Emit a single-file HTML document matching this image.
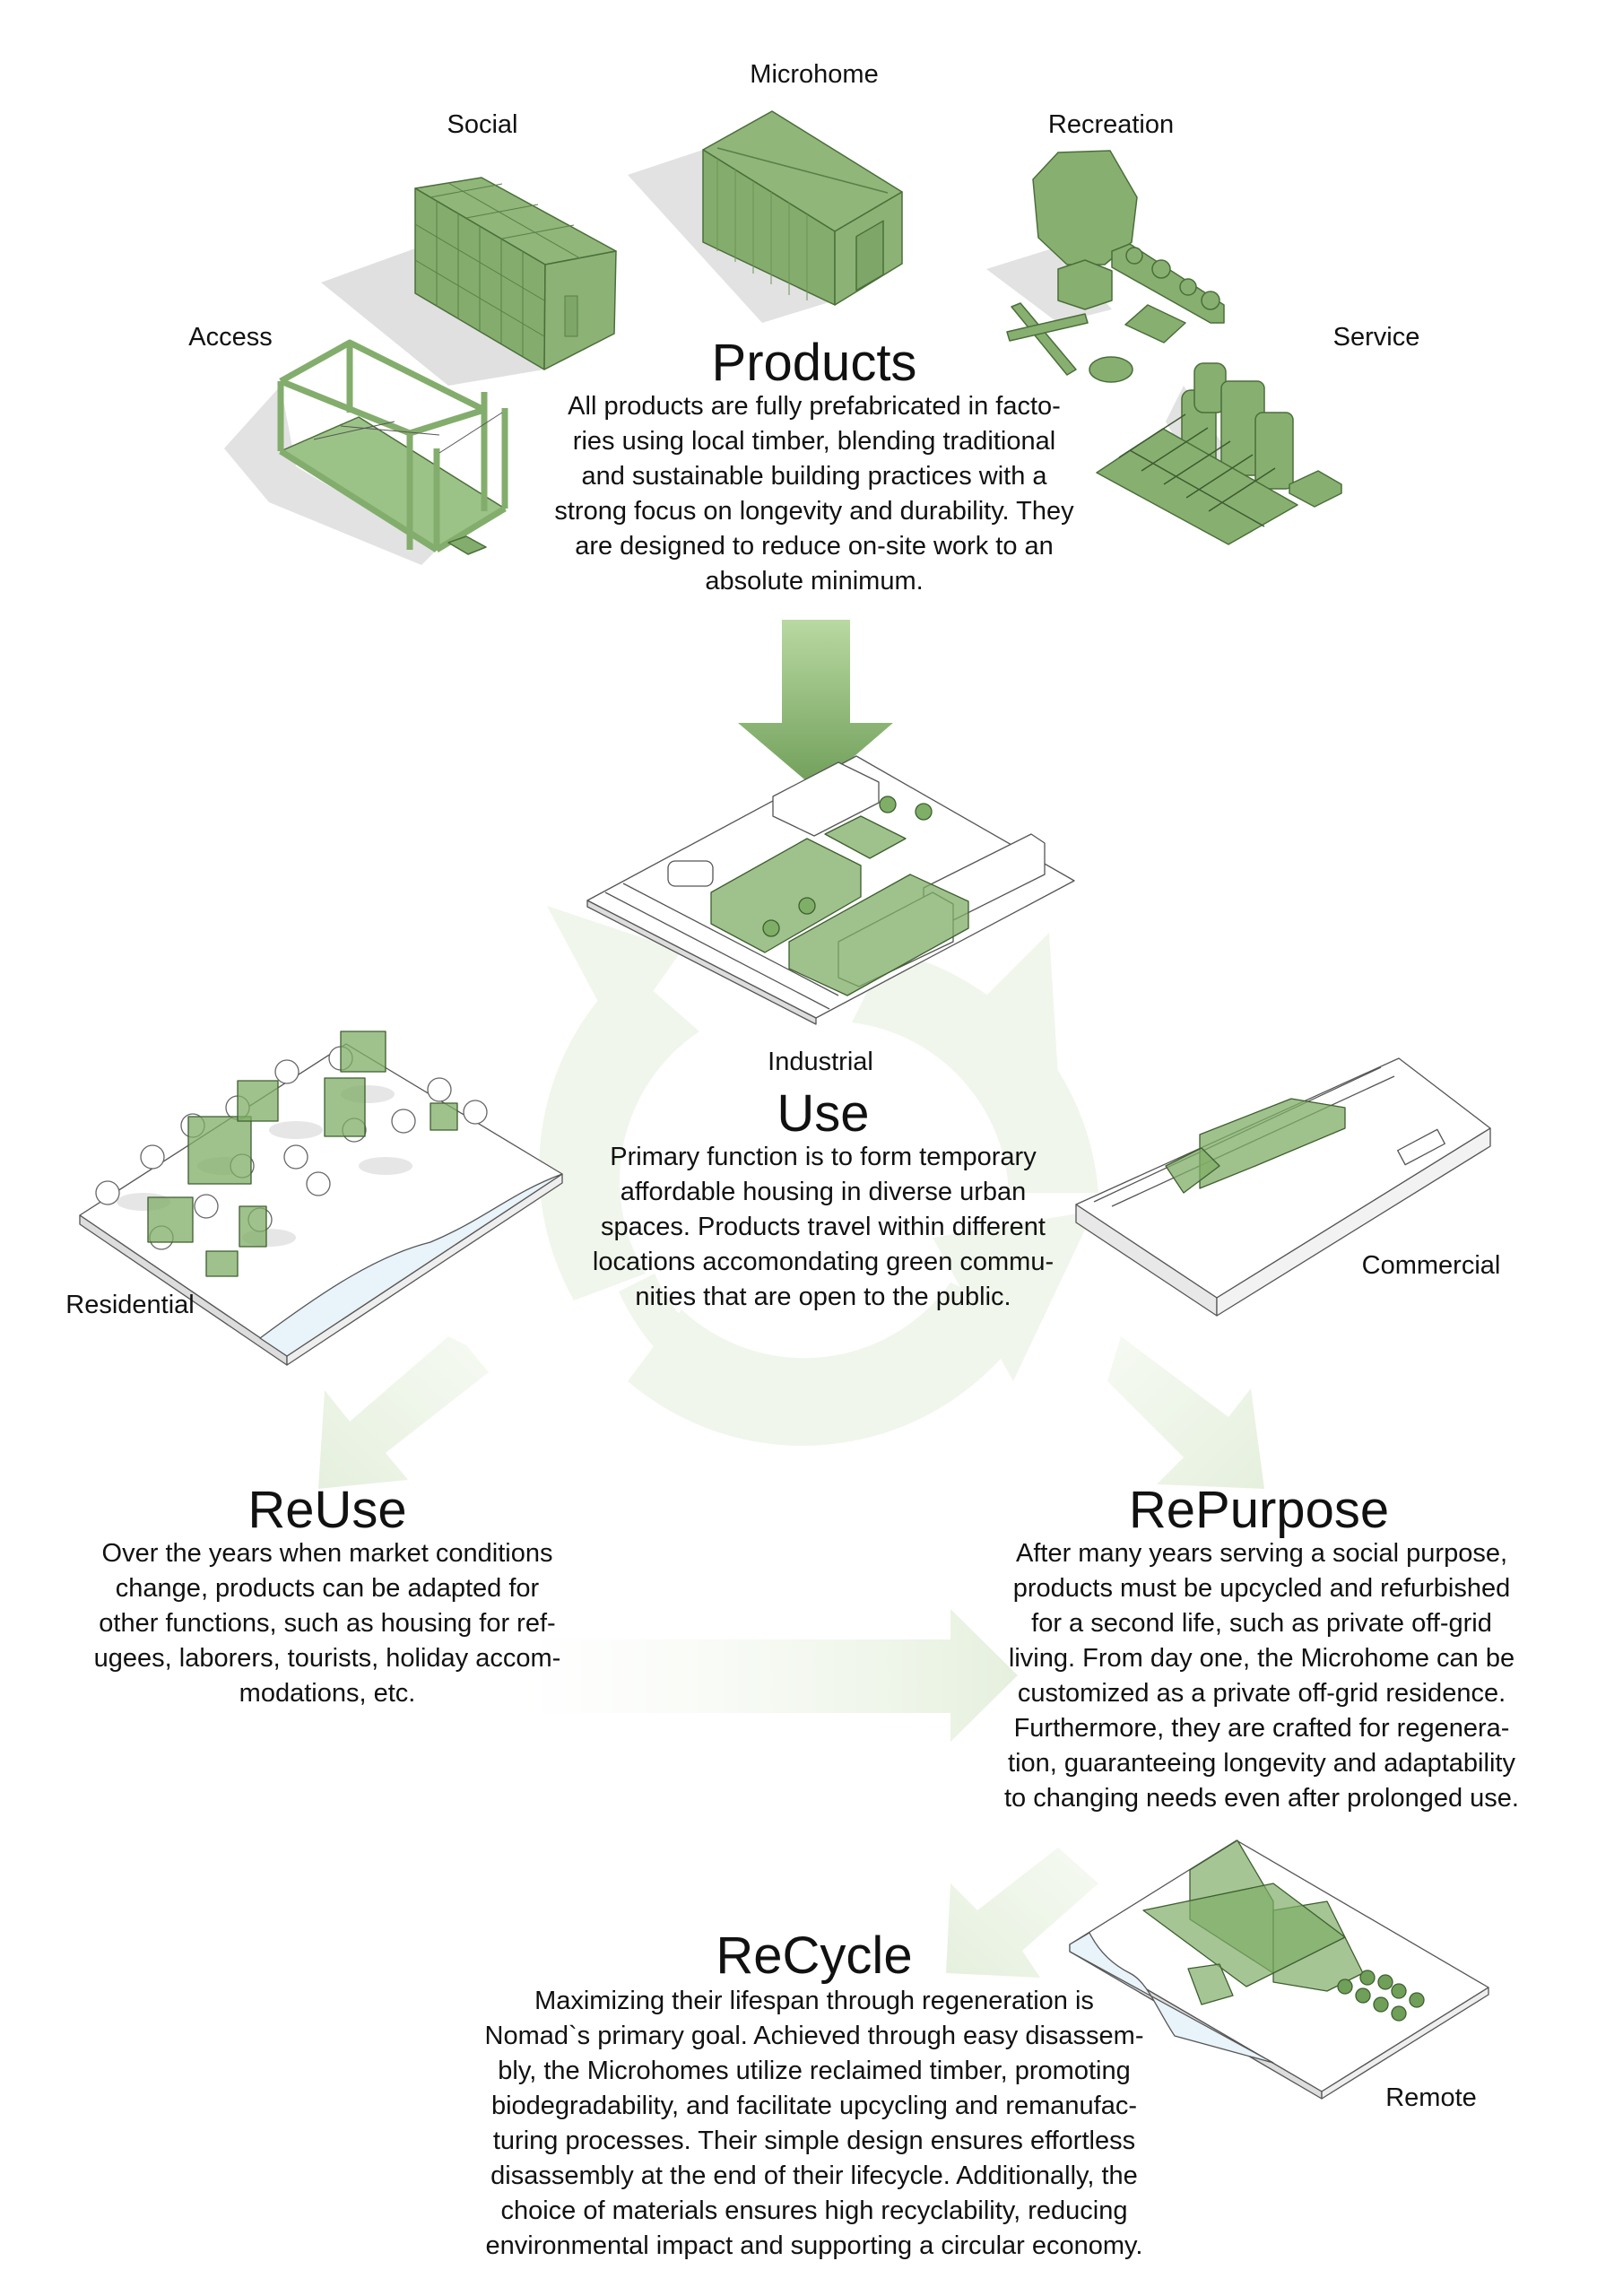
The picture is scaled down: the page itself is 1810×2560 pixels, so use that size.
<!DOCTYPE html>
<html><head><meta charset="utf-8"><style>
html,body{margin:0;padding:0;background:#fff}
svg{display:block}
text{font-family:"Liberation Sans",sans-serif;fill:#111}
</style></head><body>
<svg width="1810" height="2560" viewBox="0 0 1810 2560" xmlns="http://www.w3.org/2000/svg">
<defs>
<linearGradient id="ag" x1="0" y1="0" x2="0" y2="1"><stop offset="0" stop-color="#b9d9a2"/><stop offset="1" stop-color="#6f9e58"/></linearGradient>
<linearGradient id="hg" x1="0" y1="0" x2="1" y2="0"><stop offset="0" stop-color="#f3f8ef" stop-opacity="0"/><stop offset="1" stop-color="#e6f0de"/></linearGradient>
<linearGradient id="dl" x1="1" y1="0" x2="0" y2="1"><stop offset="0" stop-color="#f6faf3"/><stop offset="1" stop-color="#e6f0de"/></linearGradient>
<linearGradient id="dr" x1="0" y1="0" x2="1" y2="1"><stop offset="0" stop-color="#f6faf3"/><stop offset="1" stop-color="#e6f0de"/></linearGradient>
</defs>

<g fill="#f0f6ec">
<path d="M640 1450 A300 300 0 0 1 700 1080 L780 1150 A200 200 0 0 0 720 1420 Z"/>
<polygon points="610,1010 760,1060 690,1160"/>
<path d="M990 1060 A300 300 0 0 1 1225 1330 L1125 1330 A200 200 0 0 0 950 1140 Z"/>
<polygon points="1170,1040 1180,1200 1040,1170"/>
<path d="M1150 1470 A300 300 0 0 1 700 1540 L760 1460 A200 200 0 0 0 1060 1430 Z"/>
<polygon points="1040,1380 1220,1350 1130,1540"/>
<path d="M690 1440 A260 260 0 0 0 1010 1580 L1000 1530 A210 210 0 0 1 730 1420Z"/>
</g>

<polygon points="520,1500 545,1530 430,1620 455,1650 355,1660 362,1550 390,1585 500,1490" fill="url(#dl)"/>
<polygon points="1250,1490 1370,1580 1395,1548 1410,1660 1290,1655 1320,1625 1235,1540" fill="url(#dr)"/>
<polygon points="576,1828 1060,1828 1060,1794 1135,1868 1060,1942 1060,1910 576,1910" fill="url(#hg)"/>
<polygon points="1180,2060 1225,2100 1140,2175 1160,2205 1055,2200 1060,2100 1090,2130" fill="url(#dl)"/>

<polygon points="872,691 948,691 948,806 996,806 910,880 823,806 872,806" fill="url(#ag)"/>

<g stroke="#4b6e3a" stroke-width="1.5" stroke-linejoin="round">
<polygon points="358,315 463,277 607,412 500,430" fill="#e0e0e0" stroke="none"/>
<polygon points="463,210 537,198 687,280 608,295" fill="#90b67a"/>
<polygon points="463,210 608,295 607,412 463,327" fill="#84ad6d"/>
<polygon points="608,295 687,280 685,372 607,412" fill="#8cb375"/>
<g stroke="#5a7f48" stroke-width="1"><line x1="487" y1="224" x2="487" y2="341"/><line x1="511" y1="238" x2="511" y2="355"/><line x1="535" y1="252" x2="535" y2="369"/><line x1="559" y1="266" x2="559" y2="383"/><line x1="583" y1="280" x2="583" y2="397"/>
<line x1="463" y1="250" x2="607" y2="335"/><line x1="463" y1="290" x2="607" y2="375"/><line x1="500" y1="204" x2="647" y2="288"/><line x1="480" y1="220" x2="560" y2="205"/><line x1="520" y1="243" x2="600" y2="228"/><line x1="560" y1="266" x2="640" y2="251"/>
<rect x="630" y="330" width="14" height="45" fill="#7ea668"/></g>

<polygon points="700,195 784,167 931,335 850,360" fill="#e2e2e2" stroke="none"/>
<polygon points="784,167 861,124 1006,214 931,258" fill="#90b67a"/>
<polygon points="784,167 931,258 931,340 784,270" fill="#84ad6d"/>
<polygon points="931,258 1006,214 1006,294 931,340" fill="#8cb375"/>
<line x1="800" y1="165" x2="990" y2="215" stroke="#5a7f48"/>
<g stroke="#6b9456" stroke-width="1"><line x1="800" y1="177" x2="800" y2="280"/><line x1="820" y1="189" x2="820" y2="292"/><line x1="840" y1="202" x2="840" y2="305"/><line x1="860" y1="214" x2="860" y2="317"/><line x1="880" y1="226" x2="880" y2="329"/><line x1="900" y1="239" x2="900" y2="335"/></g>
<rect x="955" y="255" width="30" height="60" fill="#7ea668" transform="skewY(-30) translate(0,560)"/>

<polygon points="250,500 313,430 330,520 487,613 470,630 300,560" fill="#e2e2e2" stroke="none"/>
<polygon points="313,503 400,465 563,567 487,613" fill="#9cc387"/>
<g fill="none" stroke="#83ad6c" stroke-width="7">
<polyline points="313,425 390,382 540,457 457,483 313,425"/>
<line x1="313" y1="425" x2="313" y2="503"/><line x1="390" y1="382" x2="390" y2="460"/><line x1="457" y1="483" x2="457" y2="613"/><line x1="540" y1="437" x2="540" y2="570"/><line x1="487" y1="500" x2="487" y2="613"/><line x1="563" y1="455" x2="563" y2="567"/>
<line x1="313" y1="503" x2="487" y2="613"/><line x1="487" y1="613" x2="563" y2="567"/>
</g>
<g stroke="#555" stroke-width="1"><line x1="350" y1="490" x2="440" y2="470"/><line x1="380" y1="475" x2="490" y2="485"/><line x1="490" y1="505" x2="560" y2="460"/></g>
<polygon points="500,605 520,598 542,610 522,618" fill="#83ad6c"/>

<polygon points="1100,300 1180,275 1240,345 1180,360" fill="#e2e2e2" stroke="none"/>
<polygon points="1180,170 1238,168 1268,220 1262,270 1232,295 1190,295 1158,265 1152,200" fill="#87b070"/>
<line x1="1210" y1="290" x2="1210" y2="300" stroke="#4b6e3a"/>
<polygon points="1180,300 1210,290 1240,302 1240,335 1210,345 1180,335" fill="#87b070"/>
<polygon points="1240,280 1260,272 1365,340 1365,360 1350,360 1240,298" fill="#87b070"/>
<circle cx="1265" cy="285" r="9" fill="#87b070"/><circle cx="1295" cy="300" r="10" fill="#87b070"/><circle cx="1325" cy="320" r="9" fill="#87b070"/><circle cx="1350" cy="335" r="10" fill="#87b070"/>
<polygon points="1128,342 1138,338 1200,412 1190,418" fill="#87b070"/>
<polygon points="1123,370 1210,350 1213,360 1126,380" fill="#87b070"/>
<polygon points="1255,362 1280,340 1322,360 1298,382" fill="#87b070"/>
<ellipse cx="1239" cy="412" rx="24" ry="14" fill="#87b070"/>
<polygon points="1300,470 1320,430 1380,520 1340,540" fill="#e2e2e2" stroke="none"/>
<rect x="1318" y="435" width="38" height="92" rx="10" fill="#87b070"/>
<rect x="1332" y="405" width="35" height="55" rx="10" fill="#87b070"/>
<rect x="1362" y="425" width="48" height="105" rx="8" fill="#87b070"/>
<rect x="1400" y="460" width="42" height="85" rx="8" fill="#87b070"/>
<polygon points="1438,540 1470,525 1496,540 1496,550 1466,565 1438,550" fill="#87b070"/>
<polygon points="1223,527 1297,478 1447,563 1370,607" fill="#87b070"/>
<g stroke="#3d5a30" stroke-width="1.5"><line x1="1260" y1="502" x2="1410" y2="587"/><line x1="1248" y1="510" x2="1322" y2="462" /><line x1="1273" y1="525" x2="1347" y2="477"/><line x1="1298" y1="540" x2="1372" y2="492"/><line x1="1323" y1="555" x2="1397" y2="507"/><line x1="1348" y1="570" x2="1422" y2="522"/></g>
</g>

<g stroke="#555" stroke-width="1.3" stroke-linejoin="round">
<polygon points="655,1004 955,843 1198,982 910,1135" fill="#fff"/>
<polygon points="655,1004 910,1135 910,1142 655,1011" fill="#ddd"/>
<line x1="675" y1="995" x2="925" y2="1125"/><line x1="695" y1="985" x2="935" y2="1110"/>
<polygon points="862,888 935,850 980,872 980,895 908,932 862,910" fill="#fff"/>
<polygon points="1030,990 1150,930 1165,940 1165,975 1045,1035 1030,1025" fill="#fff"/>
<polygon points="935,1050 1040,995 1063,1008 1063,1050 958,1100 935,1090" fill="#fff"/>
<rect x="745" y="960" width="50" height="28" rx="8" fill="#fff"/>
<g fill="#7fae66" fill-opacity=".75" stroke="#3e5e30">
<polygon points="793,995 900,935 960,965 960,1000 853,1062 793,1030"/>
<polygon points="880,1050 1015,975 1080,1005 1080,1035 945,1110 880,1080"/>
<polygon points="920,930 960,910 1010,935 970,957"/>
</g>
<g fill="#7fae66" stroke="#3e5e30"><circle cx="990" cy="897" r="9"/><circle cx="1030" cy="905" r="9"/><circle cx="860" cy="1035" r="9"/><circle cx="900" cy="1010" r="9"/></g>
</g>

<g stroke="#555" stroke-width="1.3" stroke-linejoin="round">
<polygon points="89,1355 386,1164 627,1309 320,1512" fill="#fff"/>
<polygon points="89,1355 320,1512 320,1522 89,1365" fill="#ddd"/>
<polygon points="320,1512 627,1309 627,1319 320,1522" fill="#eee"/>
<path d="M290,1492 C360,1440 420,1400 480,1385 C540,1360 570,1330 627,1309 L320,1512 Z" fill="#e8f3fa"/>
<g fill="#e6e6e6" stroke="none"><ellipse cx="160" cy="1340" rx="30" ry="10"/><ellipse cx="250" cy="1300" rx="30" ry="10"/><ellipse cx="330" cy="1260" rx="30" ry="10"/><ellipse cx="410" cy="1220" rx="30" ry="10"/><ellipse cx="300" cy="1380" rx="30" ry="10"/><ellipse cx="430" cy="1300" rx="30" ry="10"/></g>
<g fill="#fff" stroke="#666"><circle cx="120" cy="1330" r="13"/><circle cx="170" cy="1290" r="13"/><circle cx="215" cy="1255" r="13"/><circle cx="265" cy="1235" r="13"/><circle cx="320" cy="1195" r="13"/><circle cx="270" cy="1300" r="13"/><circle cx="330" cy="1290" r="13"/><circle cx="230" cy="1345" r="13"/><circle cx="290" cy="1360" r="13"/><circle cx="355" cy="1320" r="13"/><circle cx="395" cy="1260" r="13"/><circle cx="450" cy="1250" r="13"/><circle cx="490" cy="1215" r="13"/><circle cx="530" cy="1240" r="13"/><circle cx="180" cy="1380" r="13"/><circle cx="380" cy="1180" r="13"/></g>
<g fill="#7fae66" fill-opacity=".75" stroke="#3e5e30">
<rect x="210" y="1245" width="70" height="75"/><rect x="165" y="1335" width="50" height="50"/><rect x="267" y="1345" width="30" height="45"/>
<rect x="265" y="1205" width="45" height="45"/><rect x="362" y="1202" width="45" height="65"/><rect x="380" y="1150" width="50" height="45"/><rect x="480" y="1230" width="30" height="30"/><rect x="230" y="1395" width="35" height="28"/>
</g>
</g>

<g stroke="#555" stroke-width="1.3" stroke-linejoin="round">
<polygon points="1200,1343 1560,1180 1662,1258 1357,1447" fill="#fff"/>
<polygon points="1200,1343 1357,1447 1357,1467 1200,1363" fill="#e8e8e8"/>
<polygon points="1357,1447 1662,1258 1662,1278 1357,1467" fill="#f2f2f2"/>
<line x1="1220" y1="1340" x2="1540" y2="1190"/><line x1="1240" y1="1345" x2="1555" y2="1200"/>
<g fill="#7fae66" fill-opacity=".75" stroke="#3e5e30">
<polygon points="1338,1265 1440,1225 1500,1235 1500,1258 1400,1300 1338,1325"/>
<polygon points="1300,1300 1340,1280 1360,1300 1320,1330"/>
</g>
<rect x="1560" y="1270" width="50" height="18" fill="#fff" transform="rotate(-28 1585 1279)"/>
</g>

<g stroke="#555" stroke-width="1.3" stroke-linejoin="round">
<polygon points="1193,2168 1379,2052 1660,2216 1474,2332" fill="#fff"/>
<polygon points="1193,2168 1474,2332 1474,2340 1193,2176" fill="#ddd"/>
<polygon points="1474,2332 1660,2216 1660,2224 1474,2340" fill="#eee"/>
<path d="M1193,2168 L1215,2155 C1225,2175 1240,2190 1260,2200 C1280,2210 1290,2240 1310,2270 L1420,2300 L1193,2176Z" fill="#e8f3fa" stroke="#555"/>
<g fill="#7fae66" fill-opacity=".7" stroke="#3e5e30">
<polygon points="1327,2085 1380,2052 1420,2120 1420,2200 1327,2140"/>
<polygon points="1420,2130 1480,2120 1520,2200 1480,2220 1420,2210"/>
<polygon points="1275,2130 1420,2100 1500,2160 1390,2215"/>
<polygon points="1325,2195 1360,2190 1375,2225 1340,2235"/>
</g>
<g fill="#6f9f58" stroke="#3e5e30"><circle cx="1500" cy="2215" r="8"/><circle cx="1520" cy="2225" r="8"/><circle cx="1540" cy="2235" r="8"/><circle cx="1560" cy="2220" r="8"/><circle cx="1525" cy="2205" r="8"/><circle cx="1545" cy="2210" r="8"/><circle cx="1580" cy="2230" r="8"/><circle cx="1560" cy="2245" r="8"/></g>
</g>

<g text-anchor="middle">
<g font-size="29">
<text x="908" y="92">Microhome</text>
<text x="538" y="148">Social</text>
<text x="1239" y="148">Recreation</text>
<text x="257" y="385">Access</text>
<text x="1535" y="385">Service</text>
<text x="915" y="1193">Industrial</text>
<text x="145" y="1464">Residential</text>
<text x="1596" y="1420">Commercial</text>
<text x="1596" y="2348">Remote</text>
</g>
<g font-size="58">
<text x="908" y="424">Products</text>
<text x="918" y="1261">Use</text>
<text x="365" y="1703">ReUse</text>
<text x="1404" y="1703">RePurpose</text>
<text x="908" y="2200">ReCycle</text>
</g>
<g font-size="29">
<text x="908" y="462">All products are fully prefabricated in facto-</text>
<text x="908" y="501">ries using local timber, blending traditional</text>
<text x="908" y="540">and sustainable building practices with a</text>
<text x="908" y="579">strong focus on longevity and durability. They</text>
<text x="908" y="618">are designed to reduce on-site work to an</text>
<text x="908" y="657">absolute minimum.</text>

<text x="918" y="1299">Primary function is to form temporary</text>
<text x="918" y="1338">affordable housing in diverse urban</text>
<text x="918" y="1377">spaces. Products travel within different</text>
<text x="918" y="1416">locations accomondating green commu-</text>
<text x="918" y="1455">nities that are open to the public.</text>

<text x="365" y="1741">Over the years when market conditions</text>
<text x="365" y="1780">change, products can be adapted for</text>
<text x="365" y="1819">other functions, such as housing for ref-</text>
<text x="365" y="1858">ugees, laborers, tourists, holiday accom-</text>
<text x="365" y="1897">modations, etc.</text>

<text x="1407" y="1741">After many years serving a social purpose,</text>
<text x="1407" y="1780">products must be upcycled and refurbished</text>
<text x="1407" y="1819">for a second life, such as private off-grid</text>
<text x="1407" y="1858">living. From day one, the Microhome can be</text>
<text x="1407" y="1897">customized as a private off-grid residence.</text>
<text x="1407" y="1936">Furthermore, they are crafted for regenera-</text>
<text x="1407" y="1975">tion, guaranteeing longevity and adaptability</text>
<text x="1407" y="2014">to changing needs even after prolonged use.</text>

<text x="908" y="2240">Maximizing their lifespan through regeneration is</text>
<text x="908" y="2279">Nomad`s primary goal. Achieved through easy disassem-</text>
<text x="908" y="2318">bly, the Microhomes utilize reclaimed timber, promoting</text>
<text x="908" y="2357">biodegradability, and facilitate upcycling and remanufac-</text>
<text x="908" y="2396">turing processes. Their simple design ensures effortless</text>
<text x="908" y="2435">disassembly at the end of their lifecycle. Additionally, the</text>
<text x="908" y="2474">choice of materials ensures high recyclability, reducing</text>
<text x="908" y="2513">environmental impact and supporting a circular economy.</text>
</g>
</g>
</svg>
</body></html>
